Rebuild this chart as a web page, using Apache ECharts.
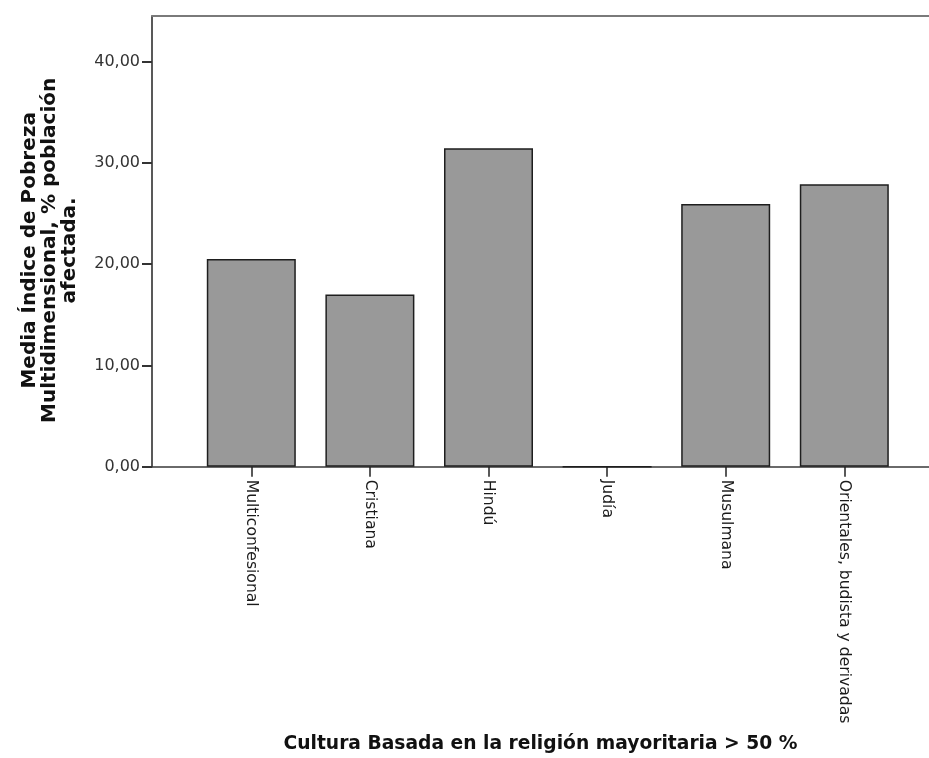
<!DOCTYPE html>
<html>
<head>
<meta charset="utf-8">
<script src="https://cdn.jsdelivr.net/npm/echarts@6/dist/echarts.min.js"></script>
<style>
  html, body { margin: 0; padding: 0; background: #fff; }
  #chart { width: 929px; height: 758px; }
</style>
</head>
<body>
<div id="chart"></div>
<script>
// Mean multidimensional poverty index by majority religion
const categories = ['Multiconfesional', 'Cristiana', 'Hindú', 'Judía', 'Musulmana', 'Orientales, budista y derivadas'];
const values = [20.51, 16.99, 31.45, 0, 25.95, 27.89];
const yTicks = [0, 10, 20, 30, 40];
const yMax = 44.5;

const xTitle = 'Cultura Basada en la religión mayoritaria > 50 %';
const yTitle = 'Media Índice de Pobreza\nMultidimensional, % población\nafectada.';

const FONT = 'DejaVu Sans';
const fmt = v => v.toFixed(2).replace('.', ',');

const chart = echarts.init(document.getElementById('chart'), null, { renderer: 'canvas' });

chart.setOption({
  animation: false,
  backgroundColor: '#ffffff',
  grid: [
    // frame: axis lines, y ticks and titles
    { left: 152, right: 0, top: 16, bottom: 291.3, outerBoundsMode: 'none' },
    // bars
    { left: 192, right: 25.4, top: 16, bottom: 291.3, outerBoundsMode: 'none' }
  ],
  xAxis: [
    {
      type: 'value', gridIndex: 0, min: 0, max: 1,
      axisLine: { show: true, lineStyle: { color: '#3a3a3a', width: 1.5 } },
      axisTick: { show: false }, axisLabel: { show: false }, splitLine: { show: false },
      name: xTitle, nameLocation: 'middle', nameGap: 268,
      nameTextStyle: { fontFamily: FONT, fontWeight: 'bold', fontSize: 18.7, color: '#111' }
    },
    {
      type: 'value', gridIndex: 0, position: 'top', min: 0, max: 1,
      axisLine: { show: true, lineStyle: { color: '#7a7a7a', width: 2 } },
      axisTick: { show: false }, axisLabel: { show: false }, splitLine: { show: false }
    },
    {
      type: 'category', gridIndex: 1, data: categories,
      axisLine: { show: false },
      axisTick: { show: true, alignWithLabel: true, length: 10, lineStyle: { color: '#222', width: 1.5 } },
      axisLabel: { rotate: -90, margin: 13, fontFamily: FONT, fontSize: 15.6, color: '#1a1a1a', interval: 0 }
    }
  ],
  yAxis: [
    {
      type: 'value', gridIndex: 0, min: 0, max: yMax,
      axisLine: { show: true, lineStyle: { color: '#222', width: 1.5 } },
      axisTick: { show: true, length: 10, customValues: yTicks, lineStyle: { color: '#333', width: 2 } },
      axisLabel: { customValues: yTicks, formatter: fmt, margin: 12, fontFamily: FONT, fontSize: 16, color: '#333' },
      splitLine: { show: false },
      name: yTitle, nameLocation: 'middle', nameRotate: 90, nameGap: 72,
      nameTextStyle: { fontFamily: FONT, fontWeight: 'bold', fontSize: 20, lineHeight: 20, color: '#111', align: 'center', padding: [0, 18, 0, 0] }
    },
    {
      type: 'value', gridIndex: 1, min: 0, max: yMax, show: false
    }
  ],
  series: [
    {
      type: 'bar', xAxisIndex: 2, yAxisIndex: 1,
      data: values,
      barWidth: 89,
      itemStyle: { color: '#999999', borderColor: '#1e1e1e', borderWidth: 1.5 }
    }
  ]
});
</script>
</body>
</html>
